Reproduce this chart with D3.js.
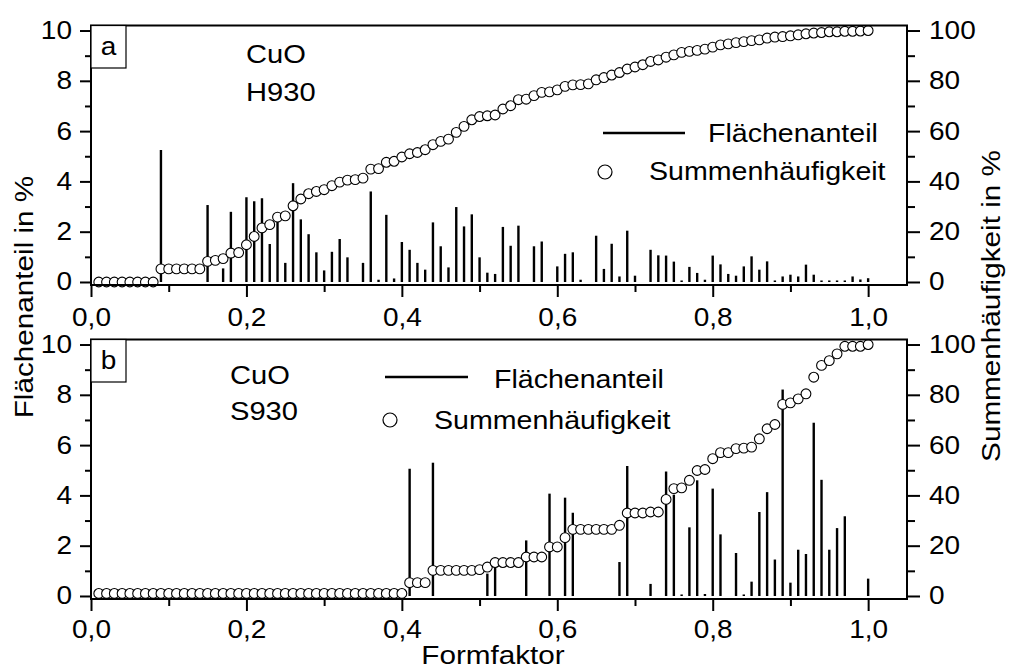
<!DOCTYPE html>
<html>
<head>
<meta charset="utf-8">
<script src="https://cdn.jsdelivr.net/npm/d3@7"></script>
<style>
  body { margin: 0; background: #fff; }
  svg text { font-family: 'Liberation Sans', Arial, sans-serif; fill: #000; }
</style>
</head>
<body>
<div id="chart"></div>
<script>
// Formfaktor classes 0,01 ... 1,00
var formfaktor = d3.range(1, 101).map(function(i) { return i / 100; });

// panel a: CuO H930
var flaecheH930 = [
  0, 0, 0, 0, 0, 0, 0, 0, 5.25, 0,
  0, 0, 0, 0, 3.06, 0, 0.54, 2.79, 0, 3.37,
  3.21, 3.33, 1.51, 2.5, 0.76, 3.93, 2.49, 1.9, 1.18, 0.46,
  1.2, 1.71, 0.98, 0, 0.76, 3.6, 0.09, 2.67, 0.14, 1.59,
  1.28, 0.76, 0.49, 2.37, 1.42, 0.58, 2.98, 2.21, 2.69, 0.98,
  0.37, 0.32, 2.19, 1.44, 2.24, 0, 1.42, 1.61, 0, 0.62,
  1.12, 1.18, 0.09, 0, 1.84, 0.52, 1.52, 0.22, 2.04, 0.25,
  0, 1.28, 1.06, 1.05, 0.81, 0.06, 0.6, 0.36, 0.09, 1.05,
  0.7, 0.32, 0.25, 0.62, 1.02, 0.49, 0.82, 0.06, 0.22, 0.29,
  0.22, 0.69, 0.29, 0.06, 0.06, 0.06, 0.06, 0.22, 0.1, 0.15
];
var summeH930 = [
  0, 0, 0, 0, 0, 0, 0, 0, 5.2, 5.2,
  5.2, 5.2, 5.2, 5.2, 8.2, 8.6, 9.3, 11.5, 11.7, 14.8,
  18.1, 21.5, 22.8, 25.8, 26.3, 30.3, 33, 35.1, 36, 36.7,
  38.3, 39.7, 40.5, 40.7, 41.3, 44.9, 45.1, 47.6, 48, 49.7,
  51, 51.5, 52.6, 54.6, 55.9, 56.8, 59.5, 61.9, 64.5, 65.8,
  66.1, 66.4, 68.8, 70.1, 72.5, 72.7, 74.1, 75.4, 75.6, 76.4,
  77.8, 78.4, 78.5, 78.8, 80.4, 81.3, 82.3, 83.3, 84.7, 85.5,
  86.4, 87.7, 88.3, 89.4, 90.3, 91.3, 91.7, 92.1, 92.6, 93.4,
  94.3, 94.7, 95.2, 95.6, 96, 96.3, 97, 97.4, 97.6, 97.9,
  98.3, 98.7, 99, 99.2, 99.5, 99.5, 99.7, 99.7, 99.8, 100
];

// panel b: CuO S930
var flaecheS930 = [
  0, 0, 0, 0, 0, 0, 0, 0, 0, 0,
  0, 0, 0, 0, 0, 0, 0, 0, 0, 0,
  0, 0, 0, 0, 0, 0, 0, 0, 0, 0,
  0, 0, 0, 0, 0, 0, 0, 0, 0, 0,
  5.06, 0, 0, 5.3, 0, 0, 0, 0, 0, 0,
  0.89, 1.49, 0, 0, 0, 2.21, 0, 0, 4.07, 0,
  3.91, 3.31, 0, 0, 0, 0, 0, 1.35, 5.17, 0,
  0, 0.48, 0, 4.95, 4.03, 0.06, 2.73, 4.6, 0.08, 4.27,
  2.45, 0, 1.71, 0.06, 0.57, 3.34, 4.13, 1.45, 8.21, 0.53,
  1.84, 1.67, 6.89, 4.62, 1.84, 2.7, 3.17, 0, 0, 0.69
];
var summeS930 = [
  1, 1, 1, 1, 1, 1, 1, 1, 1, 1,
  1, 1, 1, 1, 1, 1, 1, 1, 1, 1,
  1, 1, 1, 1, 1, 1, 1, 1, 1, 1,
  1, 1, 1, 1, 1, 1, 1, 1, 1, 1,
  5.3, 5.3, 5.3, 10.2, 10.2, 10.2, 10.2, 10.2, 10.2, 10.5,
  11.5, 13.3, 13.3, 13.3, 13.3, 15.5, 15.5, 15.5, 19.5, 19.5,
  23.2, 26.5, 26.5, 26.5, 26.5, 26.5, 26.5, 28.1, 33, 33,
  33, 33.4, 33.4, 38.4, 42.7, 43, 46, 49.9, 50.3, 54.6,
  57, 57, 58.6, 58.8, 59.2, 62.5, 66.5, 68.2, 76.2, 76.8,
  78.4, 80.4, 87, 91.7, 93.6, 96.3, 99.3, 99.3, 99.3, 100
];

var xTicks = [0, 0.2, 0.4, 0.6, 0.8, 1.0],
    xMinor = [0.1, 0.3, 0.5, 0.7, 0.9],
    leftTicks = [0, 2, 4, 6, 8, 10],
    leftMinor = [1, 3, 5, 7, 9],
    rightTicks = [0, 20, 40, 60, 80, 100],
    rightMinor = [10, 30, 50, 70, 90];

var legendLabels = ['Flächenanteil', 'Summenhäufigkeit'];

var width = 1010, height = 671,
    stretchX = 1.12;

var panels = [
  { top: 25.5, bottom: 285, bars: flaecheH930, sums: summeH930, letter: 'a',
    sample: ['CuO', 'H930'], sampleX: 246, sampleY: [63, 100.5],
    leg: { x1: 603, x2: 685, y: 133, t1x: 708, t1y: 142, cx: 605, cy: 172, t2x: 649, t2y: 180 },
    labelPad: 11 },
  { top: 339.5, bottom: 599, bars: flaecheS930, sums: summeS930, letter: 'b',
    sample: ['CuO', 'S930'], sampleX: 230, sampleY: [384, 420],
    leg: { x1: 385, x2: 468, y: 377, t1x: 494, t1y: 388, cx: 390, cy: 420, t2x: 434, t2y: 428.5 },
    labelPad: 9 }
];

var x = d3.scaleLinear().domain([0, 1.05]).range([91, 907]);

var svg = d3.select('#chart').append('svg')
    .attr('width', width)
    .attr('height', height);

function comma(d) { return d3.format('.1f')(d).replace('.', ','); }

// Origin text is a bit wider than Arial
function stretch(sel) {
  sel.each(function() {
    var w = this.getComputedTextLength();
    d3.select(this).attr('textLength', w * stretchX).attr('lengthAdjust', 'spacingAndGlyphs');
  });
}

function style_axis(g) {
  g.select('.domain').remove();
  g.selectAll('.tick line').attr('stroke', '#000').attr('stroke-width', 2);
  g.selectAll('.tick text').style('font-size', '25px').call(stretch);
}

panels.forEach(function(p) {
  var yL = d3.scaleLinear().domain([-0.12, 10.2]).range([p.bottom, p.top]),
      yR = d3.scaleLinear().domain([-1.2, 102]).range([p.bottom, p.top]);

  var g = svg.append('g');

  // bars (Flächenanteil)
  g.append('g').selectAll('line')
      .data(formfaktor.map(function(f, i) { return [f, p.bars[i]]; })
        .filter(function(d) { return d[1] > 0; }))
      .enter().append('line')
      .attr('x1', function(d) { return x(d[0]); })
      .attr('x2', function(d) { return x(d[0]); })
      .attr('y1', yL(0))
      .attr('y2', function(d) { return yL(d[1]); })
      .attr('stroke', '#000')
      .attr('stroke-width', 2.4);

  // circles (Summenhäufigkeit)
  g.append('g').selectAll('circle')
      .data(formfaktor.map(function(f, i) { return [f, p.sums[i]]; }))
      .enter().append('circle')
      .attr('cx', function(d) { return x(d[0]); })
      .attr('cy', function(d) { return yR(d[1]); })
      .attr('r', 4.9)
      .attr('fill', '#fff')
      .attr('stroke', '#000')
      .attr('stroke-width', 1.1);

  // axes
  g.append('g').attr('transform', 'translate(0,' + p.bottom + ')')
      .call(d3.axisBottom(x).tickValues(xTicks).tickFormat(comma).tickSize(12).tickPadding(p.labelPad))
      .call(style_axis);
  g.append('g').attr('transform', 'translate(0,' + p.bottom + ')')
      .call(d3.axisBottom(x).tickValues(xMinor).tickFormat('').tickSize(7))
      .call(style_axis);
  g.append('g').attr('transform', 'translate(91,0)')
      .call(d3.axisLeft(yL).tickValues(leftTicks).tickFormat(d3.format('d')).tickSize(11).tickPadding(8))
      .call(style_axis);
  g.append('g').attr('transform', 'translate(91,0)')
      .call(d3.axisLeft(yL).tickValues(leftMinor).tickFormat('').tickSize(6))
      .call(style_axis);
  g.append('g').attr('transform', 'translate(907,0)')
      .call(d3.axisRight(yR).tickValues(rightTicks).tickFormat(d3.format('d')).tickSize(13).tickPadding(9))
      .call(style_axis);
  g.append('g').attr('transform', 'translate(907,0)')
      .call(d3.axisRight(yR).tickValues(rightMinor).tickFormat('').tickSize(8))
      .call(style_axis);

  // frame
  g.append('rect')
      .attr('x', 91).attr('y', p.top)
      .attr('width', 907 - 91).attr('height', p.bottom - p.top)
      .attr('fill', 'none').attr('stroke', '#000').attr('stroke-width', 2);

  // panel letter box
  g.append('rect')
      .attr('x', 91).attr('y', p.top)
      .attr('width', 35).attr('height', 42.5)
      .attr('fill', '#fff').attr('stroke', '#000').attr('stroke-width', 1.2);
  g.append('text')
      .attr('x', 108.5).attr('y', p.top + 29.5)
      .attr('text-anchor', 'middle')
      .style('font-size', '25px')
      .text(p.letter)
      .call(stretch);

  // sample name
  p.sample.forEach(function(s, i) {
    g.append('text')
        .attr('x', p.sampleX).attr('y', p.sampleY[i])
        .style('font-size', '26px')
        .text(s)
        .call(stretch);
  });

  // legend
  var L = p.leg;
  g.append('line')
      .attr('x1', L.x1).attr('x2', L.x2).attr('y1', L.y).attr('y2', L.y)
      .attr('stroke', '#000').attr('stroke-width', 2.4);
  g.append('text').attr('x', L.t1x).attr('y', L.t1y)
      .style('font-size', '25.5px').text(legendLabels[0]).call(stretch);
  g.append('circle').attr('cx', L.cx).attr('cy', L.cy).attr('r', 7)
      .attr('fill', '#fff').attr('stroke', '#000').attr('stroke-width', 1.2);
  g.append('text').attr('x', L.t2x).attr('y', L.t2y)
      .style('font-size', '25.5px').text(legendLabels[1]).call(stretch);
});

// axis titles
svg.append('text')
    .attr('transform', 'translate(33,297) rotate(-90)')
    .attr('text-anchor', 'middle')
    .style('font-size', '26.5px')
    .text('Flächenanteil in %')
    .call(stretch);
svg.append('text')
    .attr('transform', 'translate(1000,306) rotate(-90)')
    .attr('text-anchor', 'middle')
    .style('font-size', '26.5px')
    .text('Summenhäufigkeit in %')
    .call(stretch);
svg.append('text')
    .attr('x', 493).attr('y', 664)
    .attr('text-anchor', 'middle')
    .style('font-size', '26.5px')
    .text('Formfaktor')
    .call(stretch);
</script>
</body>
</html>
